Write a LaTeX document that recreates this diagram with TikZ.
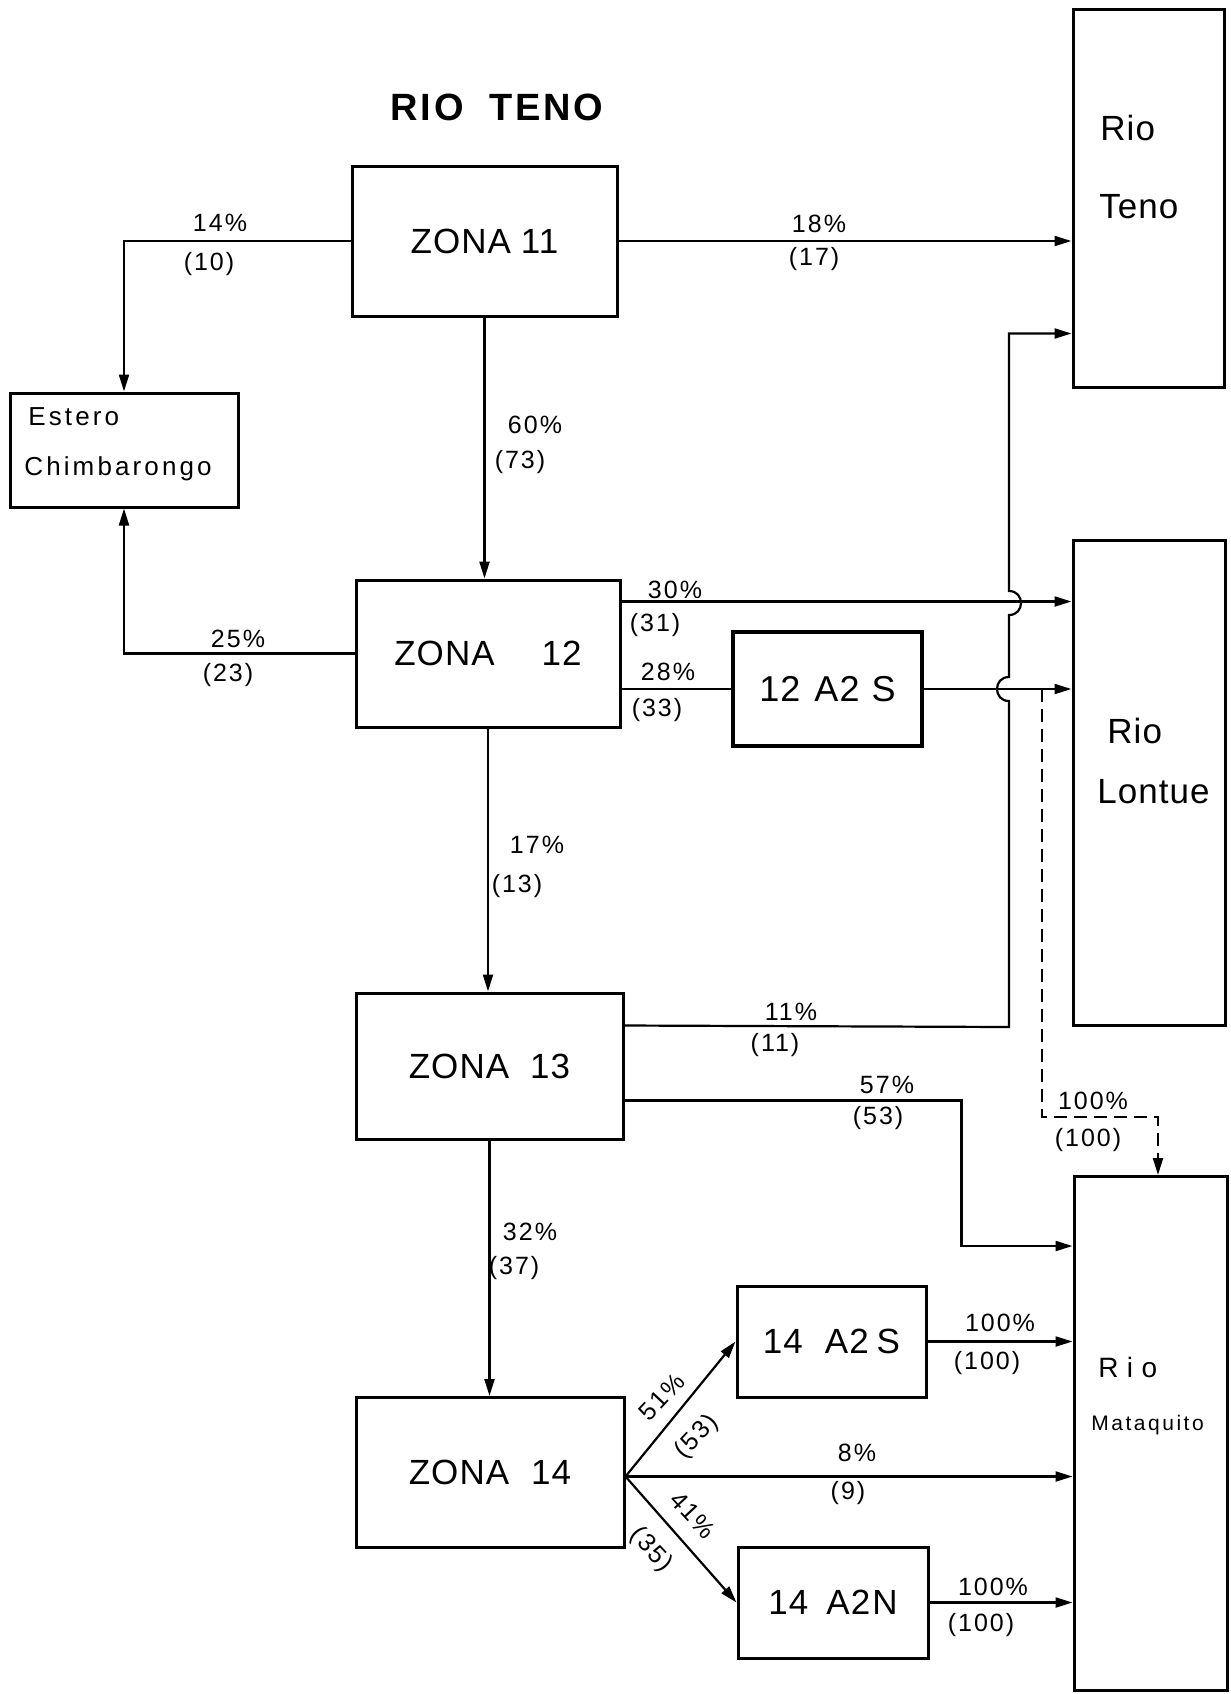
\documentclass[tikz,border=0pt]{standalone}
\usepackage{fontspec}
\setmainfont{Liberation Sans}
\newfontfamily\fLbl{Liberation Sans}[LetterSpace=8]
\newfontfamily\fBx{Liberation Sans}[LetterSpace=3]
\newfontfamily\fTtl{Liberation Sans}[LetterSpace=7]
\newfontfamily\fEst{Liberation Sans}[LetterSpace=12]
\newfontfamily\fMatA{Liberation Sans}[LetterSpace=30]
\newfontfamily\fMatB{Liberation Sans}[LetterSpace=12]
\usetikzlibrary{arrows.meta,calc}
\begin{document}
\begin{tikzpicture}[x=0.5pt,y=-0.5pt,
  zbox/.style={draw,line width=1.5pt,inner sep=0pt,font=\fBx\fontsize{17.5}{20}\selectfont},
  rbox/.style={draw,line width=1.5pt,inner sep=0pt},
  rtxt/.style={inner sep=0pt,anchor=base west,font=\fBx\fontsize{17.5}{20}\selectfont},
  conn/.style={line width=1.1pt},
  arr/.style={conn,-{Triangle[length=8.5pt,width=5pt]}},
  dsh/.style={arr,dash pattern=on 6.5pt off 3.5pt},
  lbl/.style={inner sep=0pt,font=\fLbl\fontsize{12.5}{14}\selectfont}]
\useasboundingbox (0,0) rectangle (1231,1694);

% title
\node[inner sep=0pt,font=\fTtl\bfseries\fontsize{19}{22}\selectfont] (title) at (497,107) {RIO\hspace{13pt}TENO};

% zone boxes
\node[zbox,minimum width=132.5pt,minimum height=75pt] (z11) at (484.5,241) {ZONA\hspace{5pt}11};
\node[zbox,minimum width=132pt,minimum height=73.5pt] (z12) at (488,653.5) {ZONA\hspace{23.5pt}12};
\node[zbox,minimum width=133.5pt,minimum height=73pt] (z13) at (489.5,1066) {ZONA\hspace{10.5pt}13};
\node[zbox,minimum width=134pt,minimum height=75pt] (z14) at (490,1472.5) {ZONA\hspace{11pt}14};
\node[zbox,line width=2pt,minimum width=94.5pt,minimum height=57pt,font=\fBx\fontsize{18}{20}\selectfont] (a12) at (827.5,689) {12\hspace{7pt}A2\hspace{6pt}S};
\node[zbox,minimum width=94.5pt,minimum height=55.5pt] (a14s) at (831.5,1341.5) {14\hspace{11pt}A2\hspace{4pt}S};
\node[zbox,minimum width=95pt,minimum height=55.5pt] (a14n) at (833,1602.5) {14\hspace{9pt}A2\hspace{1pt}N};

% Estero
\node[rbox,minimum width=114pt,minimum height=57pt] (est) at (124,450) {};
\node[inner sep=0pt,anchor=base west,font=\fEst\fontsize{13}{15}\selectfont] (estA) at (28,425) {Estero};
\node[inner sep=0pt,anchor=base west,font=\fEst\fontsize{13}{15}\selectfont] (estB) at (24,475) {Chimbarongo};

% rivers
\node[rbox,minimum width=75.5pt,minimum height=189pt] (teno) at (1148.5,198) {};
\node[rtxt] (tenoA) at (1100,140) {Rio};
\node[rtxt] (tenoB) at (1099,218) {Teno};
\node[rbox,minimum width=76pt,minimum height=242.5pt] (lon) at (1149,782.5) {};
\node[rtxt] (lonA) at (1107,743) {Rio};
\node[rtxt] (lonB) at (1097,803) {Lontue};
\node[rbox,minimum width=76.5pt,minimum height=257pt] (mat) at (1150.5,1433.5) {};
\node[inner sep=0pt,anchor=base west,font=\fMatA\fontsize{14}{16}\selectfont] (matA) at (1098,1377) {Rio};
\node[inner sep=0pt,anchor=base west,font=\fMatB\fontsize{10.5}{12}\selectfont] (matB) at (1091,1430) {Mataquito};

% helper coordinates
\coordinate (o30) at ($(z12.north east)+(0,23)$);
\coordinate (o11) at ($(z13.north east)+(0,34)$);
\coordinate (o57) at ($(z13.north east)+(0,109)$);
\coordinate (m57) at ($(mat.north west)+(0,71)$);
\coordinate (t11) at ($(teno.south west)+(0,-55)$);
\coordinate (d0) at ($(a12.east)+(118,0)$);
\coordinate (d1) at (1158,1117);
\coordinate (f0) at ($(z14.east)+(0,4)$);

% connectors
\draw[arr] (z11.west) -| (est.north);
\draw[arr] (z12.west) -| (est.south);
\draw[arr] (z11.east) -- (z11.east -| teno.west);
\draw[arr] (z11.south) -- (z11.south |- z12.north);
\draw[arr] (o30) -- (o30 -| lon.west);
\draw[conn] (z12.east |- a12.west) -- (a12.west);
\draw[arr] (a12.east) -- (a12.east -| lon.west);
\draw[arr] (z12.south) -- (z12.south |- z13.north);
\draw[arr] (o11) -- (1009,1027) -- (1009,701)
  .. controls (993,701) and (993,677) .. (1009,677) -- (1009,615)
  .. controls (1025,615) and (1025,591) .. (1009,591) |- (t11);
\draw[arr] (o57) -- ++(337,0) |- (m57);
\draw[dsh] (d0) |- (d1) -- (d1 |- mat.north);
\draw[arr] (z13.south) -- (z13.south |- z14.north);
\draw[arr] (f0) -- (a14s.west);
\draw[arr] (f0) -- (f0 -| mat.west);
\draw[arr] (f0) -- (a14n.west);
\draw[arr] (a14s.east) -- (a14s.east -| mat.west);
\draw[arr] (a14n.east) -- (a14n.east -| mat.west);

% labels
\node[lbl] (l14) at (220,223) {14\%};
\node[lbl] (l10) at (209,264) {(10)};
\node[lbl] (l18) at (819,224) {18\%};
\node[lbl] (l17) at (814,259) {(17)};
\node[lbl] (l60) at (535,425) {60\%};
\node[lbl] (l73) at (520,462) {(73)};
\node[lbl] (l25) at (238,639) {25\%};
\node[lbl] (l23) at (228,675) {(23)};
\node[lbl] (l30) at (675,590) {30\%};
\node[lbl] (l31) at (655,625) {(31)};
\node[lbl] (l28) at (668,672) {28\%};
\node[lbl] (l33) at (657,710) {(33)};
\node[lbl] (l17b) at (537,845) {17\%};
\node[lbl] (l13) at (517,886) {(13)};
\node[lbl] (l11) at (791,1012) {11\%};
\node[lbl] (l11b) at (775,1045) {(11)};
\node[lbl] (l57) at (887,1085) {57\%};
\node[lbl] (l53) at (878,1118) {(53)};
\node[lbl] (l100a) at (1093,1101) {100\%};
\node[lbl] (l100b) at (1088,1140) {(100)};
\node[lbl] (l32) at (530,1232) {32\%};
\node[lbl] (l37) at (514,1268) {(37)};
\node[lbl,rotate=47] (l51) at (662,1397) {51\%};
\node[lbl,rotate=47] (l53b) at (697,1437) {(53)};
\node[lbl,rotate=-47] (l41) at (693,1515) {41\%};
\node[lbl,rotate=-47] (l35) at (651,1550) {(35)};
\node[lbl] (l8) at (857,1453) {8\%};
\node[lbl] (l9) at (848,1493) {(9)};
\node[lbl] (l100c) at (1000,1323) {100\%};
\node[lbl] (l100d) at (987,1363) {(100)};
\node[lbl] (l100e) at (993,1587) {100\%};
\node[lbl] (l100f) at (981,1625) {(100)};
\end{tikzpicture}
\end{document}
